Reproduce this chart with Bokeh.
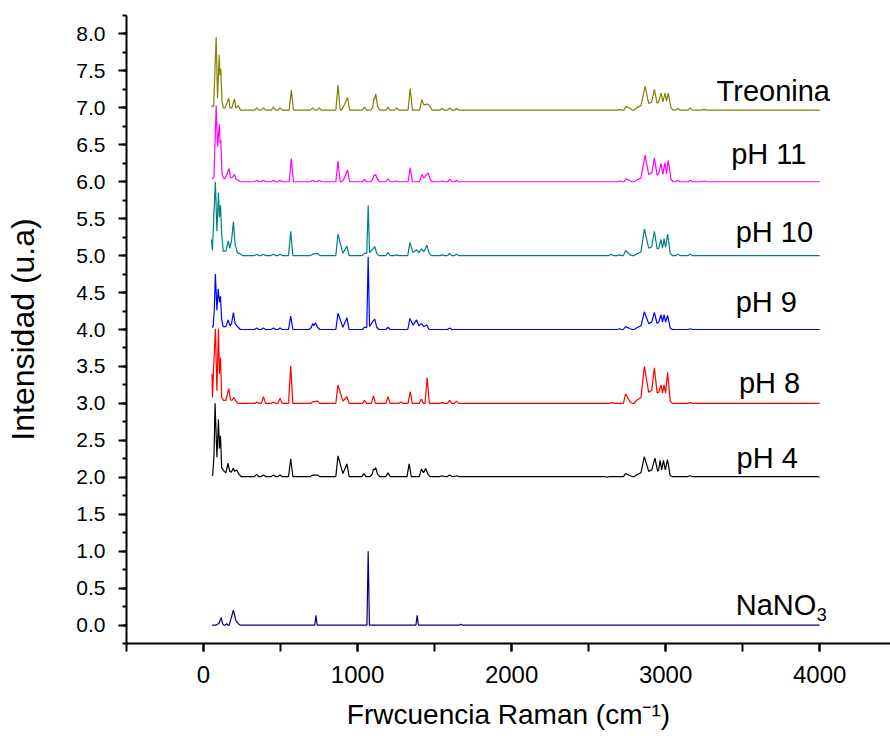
from bokeh.plotting import figure
from bokeh.models import SingleIntervalTicker, NumeralTickFormatter, Range1d
from bokeh.core.properties import value
from bokeh.embed import file_html
from bokeh.resources import INLINE

# Feature points (Raman shift cm-1, intensity)
treonina = [(52, 7.01), (60, 7.03), (66, 7.02), (82, 7.96), (91, 7.13), (102, 7.72), (107, 7.44), (112, 7.53),
            (120, 7.10), (128, 7.00), (140, 7.00), (164, 7.13), (172, 7.00), (184, 7.00), (201, 7.12), (210, 7.00),
            (226, 7.03), (346, 7.00), (389, 7.00), (454, 7.01), (497, 7.00), (570, 7.24), (708, 7.00), (751, 7.00),
            (873, 7.31), (910, 7.02), (935, 7.14), (1045, 7.01), (1098, 7.00), (1106, 7.13), (1112, 7.12),
            (1118, 7.19), (1130, 7.02), (1198, 7.01), (1254, 7.00), (1342, 7.26), (1417, 7.11), (1430, 7.04),
            (1454, 7.05), (1470, 7.02), (1550, 6.99), (1598, 7.00), (1643, 6.99), (2650, 6.97), (2700, 6.98),
            (2744, 7.02), (2770, 6.99), (2810, 7.00), (2840, 7.03), (2867, 7.29), (2890, 7.06), (2910, 7.08),
            (2927, 7.25), (2945, 7.06), (2955, 7.08), (2970, 7.20), (2982, 7.08), (2996, 7.20), (3006, 7.09),
            (3017, 7.20), (3035, 7.00), (3080, 6.99), (3160, 7.00), (3250, 6.98), (3350, 6.965), (4000, 6.965)]
treonina_base = 6.97

ph11 = [(57, 6.04), (62, 6.05), (68, 6.06), (82, 7.03), (91, 6.47), (103, 6.78), (108, 6.52), (112, 6.56),
        (120, 6.11), (130, 6.05), (140, 6.04), (166, 6.18), (175, 6.06), (185, 6.05), (201, 6.10), (212, 6.03),
        (226, 6.02), (346, 6.02), (389, 6.02), (454, 6.02), (497, 6.02), (570, 6.31), (708, 6.02), (751, 6.02),
        (873, 6.28), (910, 6.03), (935, 6.16), (1045, 6.03), (1098, 6.03), (1106, 6.09), (1112, 6.08),
        (1118, 6.10), (1130, 6.03), (1198, 6.04), (1254, 6.01), (1342, 6.19), (1417, 6.10), (1430, 6.05),
        (1458, 6.12), (1472, 6.03), (1550, 6.01), (1598, 6.03), (1643, 6.02), (2650, 6.00), (2700, 6.01),
        (2744, 6.04), (2770, 6.01), (2810, 6.02), (2840, 6.05), (2867, 6.36), (2890, 6.10), (2910, 6.12),
        (2927, 6.32), (2945, 6.09), (2955, 6.11), (2970, 6.25), (2982, 6.10), (2996, 6.26), (3006, 6.11),
        (3017, 6.29), (3035, 6.03), (3080, 6.02), (3160, 6.02), (3250, 6.01), (3350, 6.00), (4000, 6.00)]
ph11_base = 6.00

ph10 = [(51, 5.22), (58, 5.07), (66, 5.50), (77, 6.00), (87, 5.33), (97, 5.85), (103, 5.52), (110, 5.68),
        (118, 5.28), (128, 5.06), (145, 5.06), (161, 5.20), (170, 5.10), (182, 5.20), (194, 5.46), (205, 5.15),
        (220, 5.04), (240, 5.02), (346, 5.02), (389, 5.02), (454, 5.02), (497, 5.02), (566, 5.33), (708, 5.02),
        (740, 5.03), (873, 5.29), (905, 5.03), (931, 5.13), (1045, 5.03), (1060, 5.03), (1069, 5.68),
        (1078, 5.04), (1103, 5.10), (1112, 5.12), (1125, 5.03), (1198, 5.04), (1254, 5.01), (1340, 5.18),
        (1360, 5.04), (1383, 5.08), (1398, 5.04), (1415, 5.09), (1430, 5.05), (1450, 5.14), (1465, 5.03),
        (1550, 5.01), (1598, 5.03), (1643, 5.02), (2647, 5.02), (2700, 5.01), (2740, 5.07), (2770, 5.01),
        (2810, 5.02), (2840, 5.05), (2862, 5.36), (2890, 5.10), (2910, 5.12), (2927, 5.33), (2945, 5.09),
        (2955, 5.10), (2970, 5.22), (2980, 5.10), (2990, 5.23), (3000, 5.11), (3013, 5.29), (3030, 5.03),
        (3080, 5.02), (3160, 5.02), (3300, 5.00), (4000, 5.00)]
ph10_base = 5.00

ph9 = [(55, 4.04), (62, 4.03), (70, 4.26), (77, 4.75), (87, 4.26), (95, 4.55), (103, 4.37), (110, 4.45),
       (118, 4.13), (128, 4.04), (145, 4.04), (160, 4.13), (172, 4.05), (182, 4.08), (194, 4.23), (205, 4.08),
       (225, 4.03), (346, 4.02), (389, 4.02), (454, 4.02), (497, 4.02), (566, 4.18), (700, 4.03), (708, 4.08),
       (716, 4.05), (727, 4.09), (740, 4.03), (873, 4.22), (905, 4.03), (931, 4.16), (1045, 4.03), (1060, 4.03),
       (1069, 4.98), (1078, 4.04), (1103, 4.12), (1112, 4.14), (1125, 4.03), (1198, 4.03), (1340, 4.15),
       (1360, 4.06), (1383, 4.13), (1398, 4.05), (1415, 4.08), (1430, 4.04), (1450, 4.06), (1598, 4.02),
       (2700, 4.01), (2740, 4.04), (2770, 4.01), (2810, 4.02), (2840, 4.05), (2862, 4.24), (2890, 4.08),
       (2910, 4.10), (2927, 4.23), (2945, 4.08), (2955, 4.10), (2970, 4.20), (2980, 4.10), (2990, 4.20),
       (3000, 4.10), (3013, 4.19), (3030, 4.02), (3160, 4.01), (4000, 4.00)]
ph9_base = 4.00

ph8 = [(55, 3.40), (58, 3.08), (66, 3.50), (77, 4.01), (87, 3.17), (97, 4.01), (103, 3.40), (110, 3.62),
       (118, 3.08), (130, 3.04), (145, 3.04), (164, 3.20), (175, 3.05), (185, 3.04), (197, 3.08), (210, 3.03),
       (346, 3.02), (389, 3.09), (454, 3.02), (497, 3.07), (566, 3.51), (708, 3.02), (740, 3.03), (873, 3.25),
       (905, 3.03), (931, 3.09), (1045, 3.04), (1103, 3.10), (1198, 3.09), (1280, 3.02), (1342, 3.16),
       (1414, 3.06), (1452, 3.35), (1550, 3.01), (1598, 3.04), (1643, 3.03), (2650, 3.01), (2740, 3.13),
       (2770, 3.02), (2810, 3.04), (2840, 3.08), (2862, 3.50), (2890, 3.15), (2910, 3.18), (2927, 3.48),
       (2945, 3.14), (2955, 3.15), (2970, 3.25), (2980, 3.14), (2990, 3.25), (3000, 3.14), (3013, 3.42),
       (3030, 3.03), (3160, 3.01), (4000, 3.00)]
ph8_base = 3.00

ph4 = [(55, 2.02), (60, 2.03), (68, 2.30), (75, 3.00), (87, 2.27), (97, 2.78), (103, 2.39), (110, 2.56),
       (118, 2.13), (130, 2.09), (145, 2.06), (159, 2.19), (170, 2.08), (180, 2.07), (193, 2.12), (203, 2.08),
       (215, 2.10), (230, 2.04), (345, 2.04), (389, 2.03), (454, 2.03), (497, 2.03), (566, 2.25), (708, 2.03),
       (740, 2.03), (873, 2.29), (905, 2.05), (931, 2.18), (1041, 2.05), (1095, 2.04), (1103, 2.11),
       (1110, 2.10), (1118, 2.13), (1130, 2.04), (1198, 2.06), (1335, 2.18), (1415, 2.11), (1428, 2.06),
       (1442, 2.12), (1458, 2.04), (1550, 2.02), (1598, 2.03), (1643, 2.02), (2620, 2.00), (2740, 2.05),
       (2770, 2.02), (2810, 2.03), (2840, 2.06), (2862, 2.28), (2890, 2.08), (2910, 2.10), (2931, 2.26),
       (2948, 2.08), (2955, 2.10), (2964, 2.23), (2975, 2.10), (2986, 2.23), (2998, 2.10), (3012, 2.24),
       (3030, 2.02), (3160, 2.02), (4000, 2.00)]
ph4_base = 2.01

nano3 = [(56, 0.00), (90, 0.01), (100, 0.02), (114, 0.10), (124, 0.02), (150, 0.02), (175, 0.06), (194, 0.20),
         (210, 0.06), (230, 0.01), (730, 0.13), (1069, 1.00), (1387, 0.13), (1671, 0.01), (4000, 0.00)]
nano3_base = 0.00

series_names = ["Treonina", "pH 11", "pH 10", "pH 9", "pH 8", "pH 4", "NaNO3"]
series_colors = ["#808000", "#FF00FF", "#008080", "#0000FF", "#FF0000", "#000000", "#000080"]

label_text = ["Treonina", "pH 11", "pH 10", "pH 9", "pH 8", "pH 4", "NaNO"]
label_x = [3331, 3426, 3455, 3455, 3476, 3461, 3455]
label_y = [7.23, 6.37, 5.32, 4.375, 3.27, 2.26, 0.27]

x_title = "Frwcuencia Raman (cm\u207b\u00b9)"
y_title = "Intensidad (u.a)"


def trace(points, base, hw):
    """Polyline through the read feature points; flat base between isolated peaks."""
    vx, vy = [points[0][0]], [points[0][1]]
    for (x0, _), (x1, y1) in zip(points[:-1], points[1:]):
        if x1 - x0 > 2 * hw + 4:
            vx += [x0 + hw, x1 - hw]
            vy += [base, base]
        vx.append(x1)
        vy.append(y1)
    return vx, vy


p = figure(width=890, height=736, x_range=Range1d(-500, 4460), y_range=Range1d(-0.25, 8.25),
           output_backend="svg", toolbar_location=None,
           min_border_left=126, min_border_right=0, min_border_top=15, min_border_bottom=93)
p.outline_line_color = None
p.grid.visible = False
p.background_fill_color = "white"
p.border_fill_color = "white"

all_series = [(treonina, treonina_base, 14), (ph11, ph11_base, 14), (ph10, ph10_base, 14), (ph9, ph9_base, 14),
              (ph8, ph8_base, 14), (ph4, ph4_base, 14), (nano3, nano3_base, 8)]
for (pts, base, hw), col in zip(all_series, series_colors):
    vx, vy = trace(pts, base, hw)
    p.line(vx, vy, line_color=col, line_width=1.2)

p.text(x=label_x, y=label_y, text=label_text, text_font=value("Liberation Sans"), text_font_size="29px",
       text_color="black", text_align="left", text_baseline="middle")
p.text(x=[label_x[-1]], y=[label_y[-1]], text=["3"], text_font=value("Liberation Sans"), text_font_size="18px",
       text_color="black", text_align="left", text_baseline="middle", x_offset=81, y_offset=9)

xa = p.xaxis[0]
xa.ticker = SingleIntervalTicker(interval=1000, num_minor_ticks=2)
xa.axis_label = x_title
ya = p.yaxis[0]
ya.ticker = SingleIntervalTicker(interval=0.5, num_minor_ticks=2)
ya.formatter = NumeralTickFormatter(format="0.0")
ya.axis_label = y_title

for ax in (xa, ya):
    ax.axis_line_width = 2
    ax.axis_line_color = "black"
    ax.major_tick_in = 0
    ax.minor_tick_in = 0
    ax.major_tick_out = 8
    ax.major_tick_line_width = 2
    ax.minor_tick_line_width = 2
    ax.major_tick_line_color = "black"
    ax.minor_tick_line_color = "black"
    ax.major_label_text_font = "Liberation Sans"
    ax.major_label_text_color = "black"
    ax.axis_label_text_font = "Liberation Sans"
    ax.axis_label_text_font_style = "normal"
    ax.axis_label_text_color = "black"

xa.minor_tick_out = 8
xa.major_label_text_font_size = "24px"
xa.major_label_standoff = 14
xa.axis_label_text_font_size = "28px"
xa.axis_label_standoff = 13

ya.minor_tick_out = 4
ya.major_label_text_font_size = "21px"
ya.major_label_standoff = 13
ya.axis_label_text_font_size = "32px"
ya.axis_label_standoff = 32

open("out.html", "w").write(file_html(p, INLINE))
